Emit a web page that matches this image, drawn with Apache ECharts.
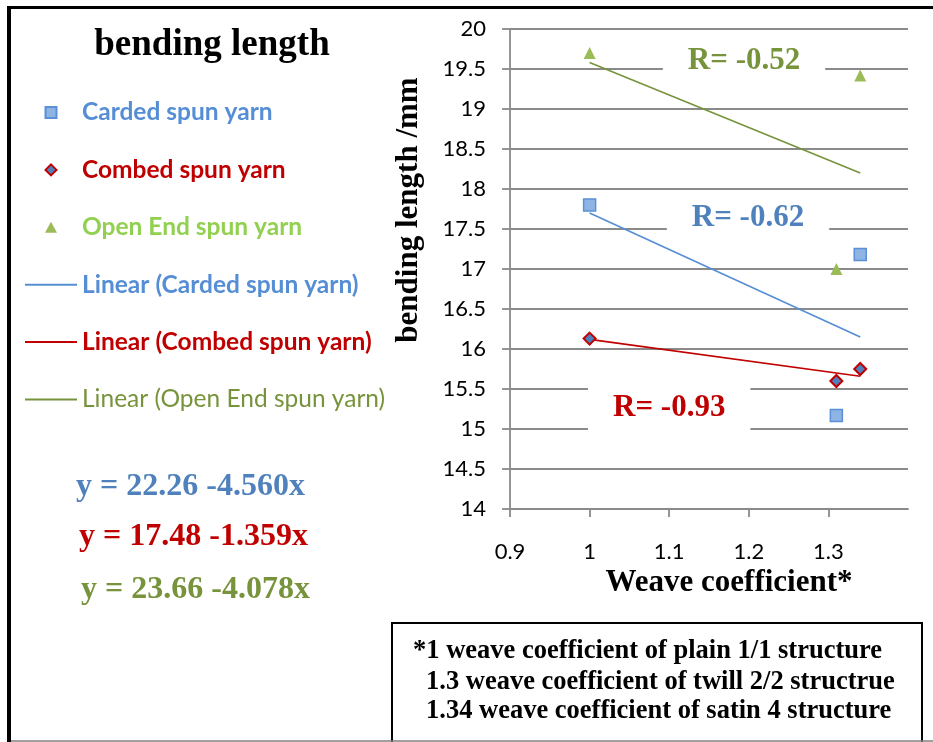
<!DOCTYPE html>
<html><head><meta charset="utf-8">
<script src="https://cdn.jsdelivr.net/npm/echarts@6/dist/echarts.min.js"></script>
<style>html,body{margin:0;padding:0;background:#fff}#c{width:933px;height:742px}</style>
</head><body><div id="c"></div>
<script>
// ---- data ----
const weaveX = [1, 1.31, 1.34];
const carded = [17.80, 15.17, 17.18];
const combed = [16.13, 15.60, 15.75];
const openEnd = [19.70, 17.00, 19.42];
const trendX = [1, 1.34];
const trendCarded = [17.70, 16.15];
const trendCombed = [16.12, 15.66];
const trendOpenEnd = [19.58, 18.20];
const xTickValues = [0.9, 1, 1.1, 1.2, 1.3];
const seriesNames = ['Carded spun yarn', 'Combed spun yarn', 'Open End spun yarn',
  'Linear (Carded spun yarn)', 'Linear (Combed spun yarn)', 'Linear (Open End spun yarn)'];
const rTexts = ['R= -0.52', 'R= -0.62', 'R= -0.93'];
const rAtX = [1.194, 1.199, 1.100];
const rAtY = [19.60, 17.64, 15.26];
const equations = ['y = 22.26 -4.560x', 'y = 17.48 -1.359x', 'y = 23.66 -4.078x'];
const notes = ['*1 weave coefficient of plain 1/1 structure',
  '1.3 weave coefficient of twill 2/2 structrue',
  '1.34 weave coefficient of satin 4 structure'];

// ---- styles ----
const C_BLUE_TXT = '#558ED5', C_BLUE = '#4F81BD', C_RED = '#C00000',
      C_GREEN_TXT = '#92D050', C_GREEN = '#77933C';
const serif = 'Liberation Serif, Times New Roman, serif';
const sans = 'Lato, Calibri, sans-serif';
const gridColor = '#8a8a8a';
// legend icons: a 12px marker centred in a 52x12 box (the leading moves fix the box)
const BOX = 'M0 0 M52 12 ';
const ICON_SQUARE = 'path://' + BOX + 'M20.5 0.5 L31.5 0.5 L31.5 11.5 L20.5 11.5 Z';
const ICON_DIAMOND = 'path://' + BOX + 'M26 0.5 L31.5 6 L26 11.5 L20.5 6 Z';
const ICON_TRIANGLE = 'path://' + BOX + 'M26 0.5 L32 11.5 L20 11.5 Z';

const zip = (xs, ys) => xs.map((x, i) => [x, ys[i]]);

const chart = echarts.init(document.getElementById('c'), null, {renderer: 'canvas'});
chart.setOption({
  backgroundColor: '#fff',
  animation: false,
  title: {
    text: 'bending length', left: 212, top: 27, padding: 0, textAlign: 'center',
    textStyle: {fontFamily: serif, fontSize: 37, fontWeight: 'bold', color: '#000'}
  },
  legend: {
    orient: 'vertical', left: 24, top: 100, padding: 0,
    itemWidth: 52, itemHeight: 12, itemGap: 32.4,
    textStyle: {fontFamily: sans, fontSize: 24.5, fontWeight: 'bold', lineHeight: 24},
    data: [
      {name: seriesNames[0], icon: ICON_SQUARE, textStyle: {color: C_BLUE_TXT}},
      {name: seriesNames[1], icon: ICON_DIAMOND, textStyle: {color: C_RED}},
      {name: seriesNames[2], icon: ICON_TRIANGLE, textStyle: {color: C_GREEN_TXT}},
      {name: seriesNames[3], itemStyle: {opacity: 0}, textStyle: {color: C_BLUE_TXT}},
      {name: seriesNames[4], itemStyle: {opacity: 0}, textStyle: {color: C_RED}},
      {name: seriesNames[5], itemStyle: {opacity: 0}, textStyle: {color: C_GREEN, fontWeight: 'normal'}}
    ]
  },
  grid: {left: 510, top: 29, width: 398, height: 480, containLabel: false},
  xAxis: {
    type: 'value', min: 0.9, max: 1.4, interval: 0.1,
    name: 'Weave coefficient*', nameLocation: 'middle', nameGap: 56,
    nameTextStyle: {fontFamily: serif, fontSize: 31, fontWeight: 'bold', color: '#000', padding: [0, 0, 0, 40]},
    axisLine: {show: true, lineStyle: {color: gridColor, width: 1.8}},
    axisTick: {show: true, length: 8, customValues: xTickValues, lineStyle: {color: gridColor, width: 1.8}},
    axisLabel: {customValues: xTickValues, margin: 32, fontFamily: sans, fontSize: 22, color: '#000',
      formatter: v => String(+v.toFixed(2))},
    splitLine: {show: false}
  },
  yAxis: {
    type: 'value', min: 14, max: 20, interval: 0.5,
    name: 'bending length /mm', nameLocation: 'middle', nameGap: 86,
    nameTextStyle: {fontFamily: serif, fontSize: 31, fontWeight: 'bold', color: '#000', padding: [0, 0, 0, 118]},
    axisLine: {show: true, lineStyle: {color: gridColor, width: 1.8}},
    axisTick: {show: true, length: 8, inside: false, lineStyle: {color: gridColor, width: 1.8}},
    axisLabel: {margin: 24, fontFamily: sans, fontSize: 22, color: '#000'},
    splitLine: {show: true, lineStyle: {color: gridColor, width: 1.8}}
  },
  series: [
    {name: seriesNames[3], type: 'line', data: zip(trendX, trendCarded), symbol: 'none',
      lineStyle: {color: C_BLUE_TXT, width: 1.6}, itemStyle: {color: C_BLUE_TXT}, z: 2},
    {name: seriesNames[4], type: 'line', data: zip(trendX, trendCombed), symbol: 'none',
      lineStyle: {color: C_RED, width: 1.6}, itemStyle: {color: C_RED}, z: 2},
    {name: seriesNames[5], type: 'line', data: zip(trendX, trendOpenEnd), symbol: 'none',
      lineStyle: {color: C_GREEN, width: 1.6}, itemStyle: {color: C_GREEN}, z: 2},
    {name: seriesNames[0], type: 'scatter', data: zip(weaveX, carded), symbol: 'rect', symbolSize: 12,
      itemStyle: {color: '#8EB4E3', borderColor: '#5B8FD6', borderWidth: 1.5, opacity: 1}, z: 3},
    {name: seriesNames[1], type: 'scatter', data: zip(weaveX, combed), symbol: 'diamond', symbolSize: 12,
      itemStyle: {color: '#4F81BD', borderColor: C_RED, borderWidth: 2, opacity: 1}, z: 3},
    {name: seriesNames[2], type: 'scatter', data: zip(weaveX, openEnd), symbol: 'triangle', symbolSize: 12,
      itemStyle: {color: '#9BBB59', opacity: 1}, z: 3},
    {name: 'R values', type: 'scatter', silent: true, symbolSize: 1,
      itemStyle: {color: 'rgba(0,0,0,0)', opacity: 1},
      data: rTexts.map((t, i) => ({value: [rAtX[i], rAtY[i]],
        label: {color: [C_GREEN, C_BLUE, C_RED][i]}})),
      label: {show: true, position: 'inside', formatter: p => rTexts[p.dataIndex],
        fontFamily: serif, fontSize: 31, fontWeight: 'bold', lineHeight: 31, opacity: 1,
        backgroundColor: '#fff', padding: [8, 25, 8, 25]},
      z: 4}
  ],
  graphic: [
    // outer frame
    {type: 'line', shape: {x1: 9, y1: 6, x2: 9, y2: 742}, style: {stroke: '#000', lineWidth: 4}, z: 10},
    {type: 'line', shape: {x1: 7, y1: 7.5, x2: 933, y2: 7.5}, style: {stroke: '#000', lineWidth: 3}, z: 10},
    // equations
    {type: 'text', x: 76, y: 487, style: {text: equations[0], fill: C_BLUE, font: 'bold 32px ' + serif, align: 'left', verticalAlign: 'middle'}},
    {type: 'text', x: 79, y: 537, style: {text: equations[1], fill: C_RED, font: 'bold 32px ' + serif, align: 'left', verticalAlign: 'middle'}},
    {type: 'text', x: 81, y: 590, style: {text: equations[2], fill: C_GREEN, font: 'bold 32px ' + serif, align: 'left', verticalAlign: 'middle'}},
    // footnote box
    {type: 'rect', shape: {x: 392, y: 623, width: 530, height: 200}, style: {fill: '#fff', stroke: '#000', lineWidth: 2}, z: 5},
    {type: 'text', x: 413, y: 651, z: 6, style: {text: notes[0], fill: '#000', font: 'bold 26.5px ' + serif, align: 'left', verticalAlign: 'middle'}},
    {type: 'text', x: 426, y: 682, z: 6, style: {text: notes[1], fill: '#000', font: 'bold 26.5px ' + serif, align: 'left', verticalAlign: 'middle'}},
    {type: 'text', x: 426, y: 711, z: 6, style: {text: notes[2], fill: '#000', font: 'bold 26.5px ' + serif, align: 'left', verticalAlign: 'middle'}},
    {type: 'line', shape: {x1: 11, y1: 741, x2: 933, y2: 741}, style: {stroke: '#808080', lineWidth: 1.5}, z: 11}
  ]
});
</script></body></html>
